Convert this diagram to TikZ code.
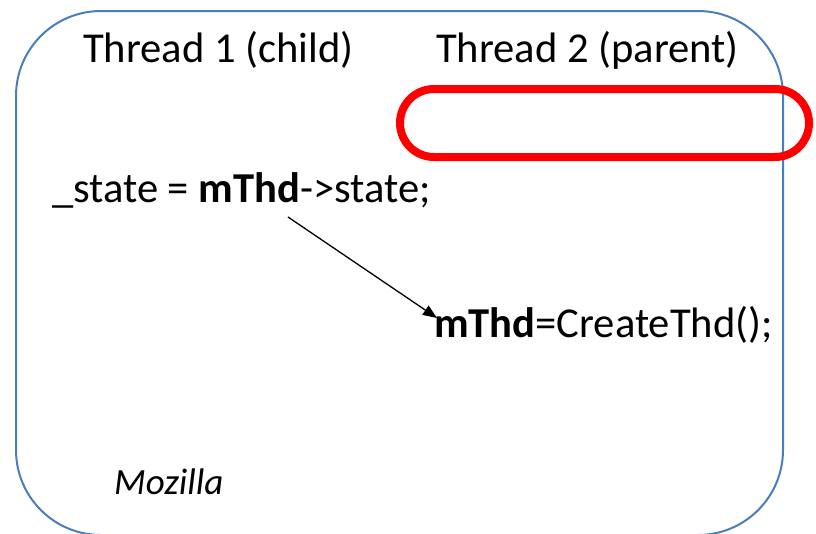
\documentclass[tikz,border=0pt]{standalone}
\usepackage{fontspec}
\setmainfont{Carlito}
\usetikzlibrary{arrows.meta}
\usetikzlibrary{positioning}

\definecolor{frameblue}{RGB}{74,126,187}

\begin{document}
\begin{tikzpicture}
	[x=1pt,y=-1pt,every node/.style={inner sep=0pt,anchor=base west,font=\fontsize{42.6}{50}\selectfont}]
	\useasboundingbox (0,0) rectangle (816,533);
	\clip (0,0) rectangle (816,533);
	% outer frame and highlight
	\draw[frameblue,line width=2pt,rounded corners=85pt] (16,11) rectangle (783,535);
	\draw[red,line width=8pt,rounded corners=34pt] (400,89) rectangle (809,157);

	\node (child) at (83,62) {Thread 1 (child)};
	\node (parent) at (436,62) {Thread 2 (parent)};
	\node (read) at (52,202) {\_state = \textbf{mThd}->state;};
	\node (write) at (434,337) {\textbf{mThd}=CreateThd();};
	\node[font=\fontsize{37}{44}\selectfont\itshape] (moz) at (114,494) {Mozilla};

	\coordinate (from) at (288,217);
	\coordinate (to) at (437,318);
	\draw[line width=1.3pt,-{Triangle[length=14pt,width=11pt]}] (from) -- (to);
\end{tikzpicture}
\end{document}
